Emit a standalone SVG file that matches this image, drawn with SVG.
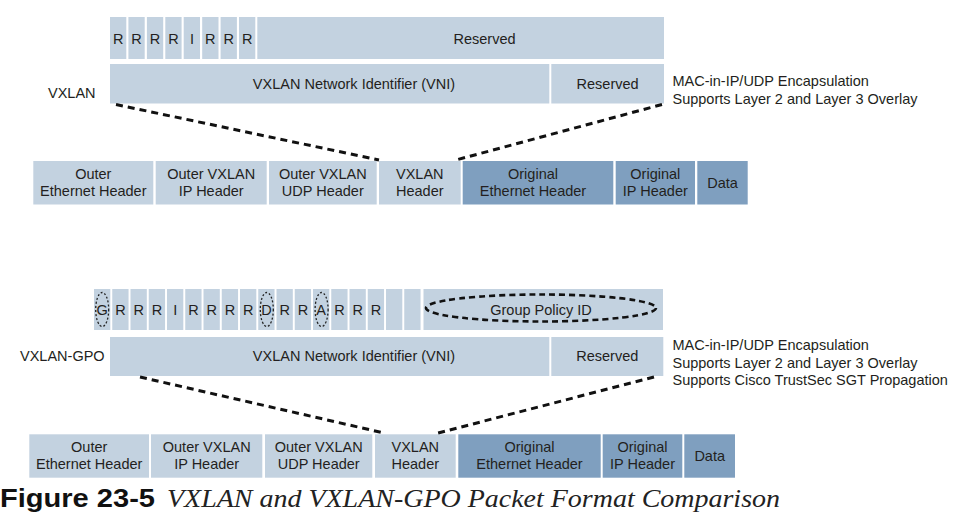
<svg xmlns="http://www.w3.org/2000/svg" width="960" height="531" viewBox="0 0 960 531">
<style>
.l{fill:#c3d2e0}
.d{fill:#7f9fbf}
text{font-family:"Liberation Sans",Arial,sans-serif;font-size:14.5px;fill:#231f20}
.c{text-anchor:middle}
.dash{fill:none;stroke:#111;stroke-width:3;stroke-dasharray:7 5}
.dot{fill:none;stroke:#222;stroke-width:1.3;stroke-dasharray:2 2}
.fig{font-family:"Liberation Sans",Arial,sans-serif;font-weight:bold;font-size:25px;fill:#111}
.cap{font-family:"Liberation Serif","Times New Roman",serif;font-style:italic;font-size:26px;fill:#222}
</style>
<rect width="960" height="531" fill="#fff"/>

<!-- ===== VXLAN (top) ===== -->
<g id="vxlan-flags">
<rect class="l" x="110" y="17" width="16.3" height="42"/>
<rect class="l" x="128.4" y="17" width="16.3" height="42"/>
<rect class="l" x="146.9" y="17" width="16.3" height="42"/>
<rect class="l" x="165.3" y="17" width="16.3" height="42"/>
<rect class="l" x="183.7" y="17" width="16.3" height="42"/>
<rect class="l" x="202.2" y="17" width="16.3" height="42"/>
<rect class="l" x="220.6" y="17" width="16.3" height="42"/>
<rect class="l" x="239" y="17" width="16.3" height="42"/>
<text class="c" x="118.2" y="43.5">R</text>
<text class="c" x="136.6" y="43.5">R</text>
<text class="c" x="155" y="43.5">R</text>
<text class="c" x="173.5" y="43.5">R</text>
<text class="c" x="191.9" y="43.5">I</text>
<text class="c" x="210.3" y="43.5">R</text>
<text class="c" x="228.8" y="43.5">R</text>
<text class="c" x="247.2" y="43.5">R</text>
</g>
<g id="vxlan-reserved-top">
<rect class="l" x="257.3" y="17" width="406.7" height="42"/>
<text class="c" x="484.5" y="43.5">Reserved</text>
</g>
<g id="vxlan-vni">
<rect class="l" x="110" y="64" width="439.3" height="39.5"/>
<text class="c" x="354" y="89">VXLAN Network Identifier (VNI)</text>
</g>
<g id="vxlan-reserved">
<rect class="l" x="551.3" y="64" width="112.7" height="39.5"/>
<text class="c" x="607.6" y="89">Reserved</text>
</g>
<g id="vxlan-label"><text x="48" y="98">VXLAN</text></g>
<g id="vxlan-notes">
<text x="672.5" y="86">MAC-in-IP/UDP Encapsulation</text>
<text x="672.5" y="104">Supports Layer 2 and Layer 3 Overlay</text>
</g>

<g id="t-outer-eth"><rect class="l" x="33.3" y="161" width="120" height="43.5"/><text class="c" x="93.3" y="179">Outer</text><text class="c" x="93.3" y="196">Ethernet Header</text></g>
<g id="t-outer-ip"><rect class="l" x="155.7" y="161" width="111" height="43.5"/><text class="c" x="211.2" y="179">Outer VXLAN</text><text class="c" x="211.2" y="196">IP Header</text></g>
<g id="t-outer-udp"><rect class="l" x="269" y="161" width="107.7" height="43.5"/><text class="c" x="322.8" y="179">Outer VXLAN</text><text class="c" x="322.8" y="196">UDP Header</text></g>
<g id="t-vxlan-hdr"><rect class="l" x="379" y="161" width="81.7" height="43.5"/><text class="c" x="419.8" y="179">VXLAN</text><text class="c" x="419.8" y="196">Header</text></g>
<g id="t-orig-eth"><rect class="d" x="462.7" y="161" width="150.6" height="43.5"/><text class="c" x="533" y="179">Original</text><text class="c" x="533" y="196">Ethernet Header</text></g>
<g id="t-orig-ip"><rect class="d" x="615.7" y="161" width="79.3" height="43.5"/><text class="c" x="655.3" y="179">Original</text><text class="c" x="655.3" y="196">IP Header</text></g>
<g id="t-data"><rect class="d" x="697.3" y="161" width="50.4" height="43.5"/><text class="c" x="722.5" y="188">Data</text></g>

<!-- ===== VXLAN-GPO (bottom) ===== -->
<g id="gpo-flags">
<rect class="l" x="94" y="289" width="16.3" height="41"/>
<rect class="l" x="112.25" y="289" width="16.3" height="41"/>
<rect class="l" x="130.5" y="289" width="16.3" height="41"/>
<rect class="l" x="148.75" y="289" width="16.3" height="41"/>
<rect class="l" x="167" y="289" width="16.3" height="41"/>
<rect class="l" x="185.25" y="289" width="16.3" height="41"/>
<rect class="l" x="203.5" y="289" width="16.3" height="41"/>
<rect class="l" x="221.75" y="289" width="16.3" height="41"/>
<rect class="l" x="240" y="289" width="16.3" height="41"/>
<rect class="l" x="258.25" y="289" width="16.3" height="41"/>
<rect class="l" x="276.5" y="289" width="16.3" height="41"/>
<rect class="l" x="294.75" y="289" width="16.3" height="41"/>
<rect class="l" x="313" y="289" width="16.3" height="41"/>
<rect class="l" x="331.25" y="289" width="16.3" height="41"/>
<rect class="l" x="349.5" y="289" width="16.3" height="41"/>
<rect class="l" x="367.75" y="289" width="16.3" height="41"/>
<rect class="l" x="386" y="289" width="16.3" height="41"/>
<rect class="l" x="404.25" y="289" width="16.3" height="41"/>
<text class="c" x="102.2" y="315">G</text>
<text class="c" x="120.4" y="315">R</text>
<text class="c" x="138.7" y="315">R</text>
<text class="c" x="156.9" y="315">R</text>
<text class="c" x="175.2" y="315">I</text>
<text class="c" x="193.4" y="315">R</text>
<text class="c" x="211.7" y="315">R</text>
<text class="c" x="229.9" y="315">R</text>
<text class="c" x="248.2" y="315">R</text>
<text class="c" x="266.4" y="315">D</text>
<text class="c" x="284.7" y="315">R</text>
<text class="c" x="302.9" y="315">R</text>
<text class="c" x="321.2" y="315">A</text>
<text class="c" x="339.4" y="315">R</text>
<text class="c" x="357.7" y="315">R</text>
<text class="c" x="375.9" y="315">R</text>
<ellipse class="dot" cx="102.2" cy="309.5" rx="6.5" ry="17"/>
<ellipse class="dot" cx="266.8" cy="309.5" rx="6.5" ry="17"/>
<ellipse class="dot" cx="321.6" cy="309.5" rx="6.5" ry="17"/>
</g>
<g id="gpo-group-policy-id">
<rect class="l" x="423.5" y="289" width="239.5" height="41"/>
<ellipse class="dash" cx="541" cy="308" rx="115" ry="13.5" style="stroke-width:2.6;stroke-dasharray:6 4"/>
<text class="c" x="541" y="315">Group Policy ID</text>
</g>
<g id="gpo-vni">
<rect class="l" x="110" y="337" width="439.3" height="39"/>
<text class="c" x="354" y="361">VXLAN Network Identifier (VNI)</text>
</g>
<g id="gpo-reserved">
<rect class="l" x="551.3" y="337" width="112" height="39"/>
<text class="c" x="607.3" y="361">Reserved</text>
</g>
<g id="gpo-label"><text x="20" y="361">VXLAN-GPO</text></g>
<g id="gpo-notes">
<text x="672.5" y="350">MAC-in-IP/UDP Encapsulation</text>
<text x="672.5" y="368">Supports Layer 2 and Layer 3 Overlay</text>
<text x="672.5" y="385">Supports Cisco TrustSec SGT Propagation</text>
</g>

<g id="b-outer-eth"><rect class="l" x="29.3" y="434.3" width="119.7" height="43.4"/><text class="c" x="89.2" y="452">Outer</text><text class="c" x="89.2" y="469">Ethernet Header</text></g>
<g id="b-outer-ip"><rect class="l" x="151" y="434.3" width="111.3" height="43.4"/><text class="c" x="206.7" y="452">Outer VXLAN</text><text class="c" x="206.7" y="469">IP Header</text></g>
<g id="b-outer-udp"><rect class="l" x="265" y="434.3" width="107.3" height="43.4"/><text class="c" x="318.7" y="452">Outer VXLAN</text><text class="c" x="318.7" y="469">UDP Header</text></g>
<g id="b-vxlan-hdr"><rect class="l" x="375" y="434.3" width="80.7" height="43.4"/><text class="c" x="415.3" y="452">VXLAN</text><text class="c" x="415.3" y="469">Header</text></g>
<g id="b-orig-eth"><rect class="d" x="458.3" y="434.3" width="142.4" height="43.4"/><text class="c" x="529.5" y="452">Original</text><text class="c" x="529.5" y="469">Ethernet Header</text></g>
<g id="b-orig-ip"><rect class="d" x="602.7" y="434.3" width="79.6" height="43.4"/><text class="c" x="642.5" y="452">Original</text><text class="c" x="642.5" y="469">IP Header</text></g>
<g id="b-data"><rect class="d" x="684.3" y="434.3" width="50.7" height="43.4"/><text class="c" x="709.7" y="461">Data</text></g>

<g id="connectors">
<line class="dash" x1="116" y1="104.5" x2="379" y2="160"/>
<line class="dash" x1="662" y1="104.5" x2="456" y2="160"/>
<line class="dash" x1="140" y1="377" x2="384" y2="433"/>
<line class="dash" x1="654" y1="377" x2="438" y2="433"/>
</g>

<g id="caption">
<text class="fig" x="0" y="507" textLength="155" lengthAdjust="spacingAndGlyphs">Figure 23-5</text>
<text class="cap" x="167" y="507" textLength="613" lengthAdjust="spacingAndGlyphs">VXLAN and VXLAN-GPO Packet Format Comparison</text>
</g>
</svg>
